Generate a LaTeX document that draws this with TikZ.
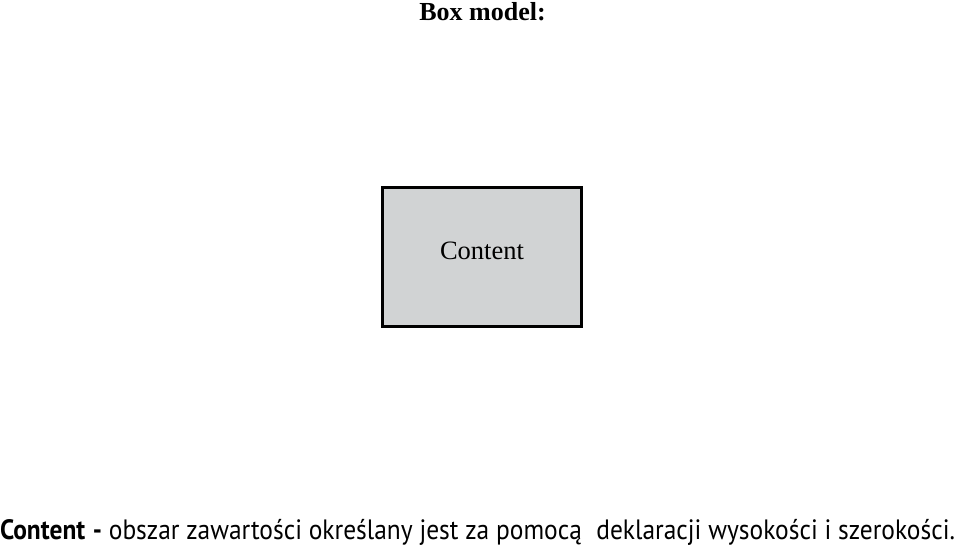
\documentclass[tikz,border=0pt]{standalone}
\usepackage{fontspec}
\setmainfont{Liberation Serif}
\newfontfamily\bodysans{PT Sans}
\definecolor{boxgray}{HTML}{D1D3D4}
\begin{document}
\begin{tikzpicture}[x=1pt,y=1pt,
  lbl/.style={inner sep=0pt,outer sep=0pt}]
\useasboundingbox (0,0) rectangle (959,547);
\node[lbl,anchor=base] (title) at (482.5,526.3) {\fontsize{26}{30}\selectfont\bfseries Box model:};
\draw[line width=2.6pt,fill=boxgray] (382.3,220.7) rectangle (581.7,359.3);
\node[lbl,anchor=base] (content) at (482,287) {\fontsize{26.5}{30}\selectfont Content};
\node[lbl,anchor=base west] (desc) at (0,7.5) {\scalebox{1}[1.1]{\resizebox{955pt}{!}{\bodysans\fontsize{22}{26}\selectfont\textbf{Content\hspace{0.05em} -} obszar zawartości określany jest za pomocą\hspace{0.3em} deklaracji wysokości i szerokości.}}};
\end{tikzpicture}
\end{document}
